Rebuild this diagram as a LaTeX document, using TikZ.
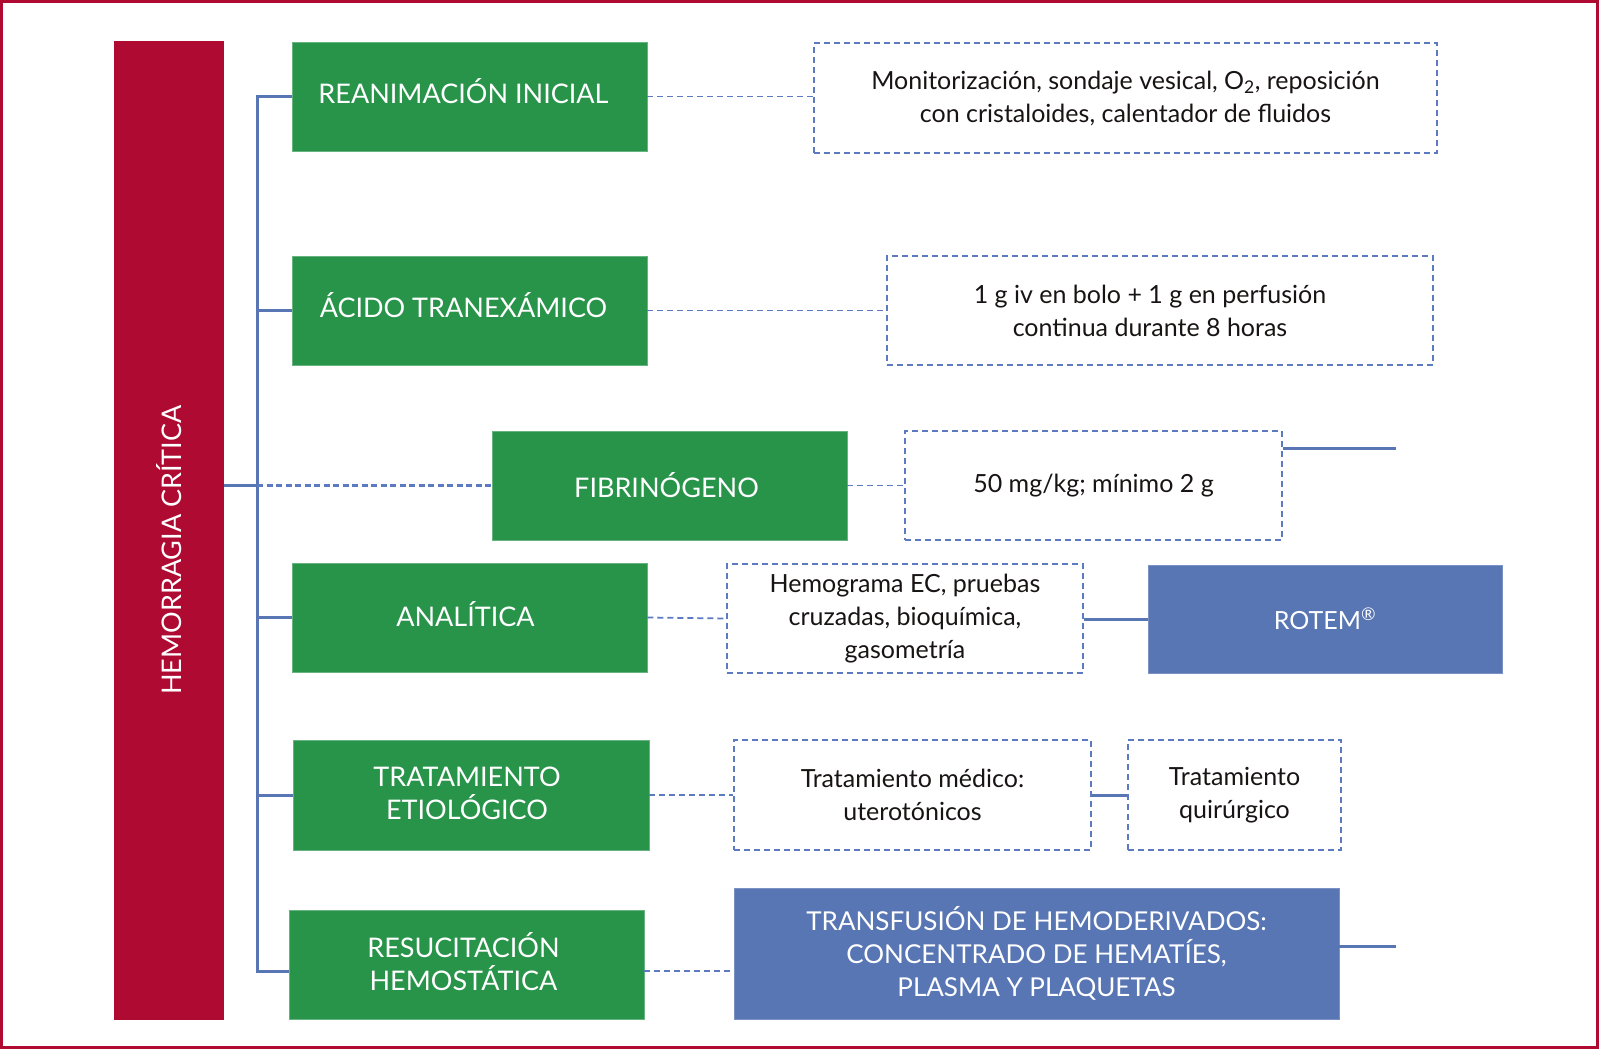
\documentclass[tikz,border=0pt]{standalone}
\usepackage{fontspec}
\setmainfont{Lato}
\usetikzlibrary{calc}
\definecolor{gr}{RGB}{40,148,74}
\definecolor{crim}{RGB}{174,10,50}
\definecolor{bl}{RGB}{88,118,180}
\definecolor{dbl}{RGB}{92,122,192}
\definecolor{txt}{RGB}{25,20,20}
\newcommand\bigf{\fontsize{25}{33}\selectfont}
\newcommand\capf{\fontsize{27}{33}\selectfont}
\newcommand\midf{\fontsize{26}{33}\selectfont}
\begin{document}
\begin{tikzpicture}[x=1pt,y=-1pt,
  gbox/.style={fill=gr, draw=gr!70!white, line width=0.6pt, minimum width=355pt, minimum height=109pt, inner sep=0pt},
  gtext/.style={text=white, inner sep=0pt, align=center, font=\capf},
  dbox/.style={draw=dbl, dash pattern=on 6pt off 4pt, line width=1.6pt, text=txt, inner sep=0pt, align=center, font=\bigf},
  bbox/.style={fill=bl, draw=bl!80!white, line width=0.6pt, text=white, inner sep=0pt, align=center, font=\bigf},
  tree/.style={draw=bl, line width=3pt},
  dline/.style={draw=dbl, dash pattern=on 6pt off 4pt, line width=1.8pt},
  dfat/.style={draw=dbl, dash pattern=on 6pt off 3.5pt, line width=3pt}]
\useasboundingbox (0,0) rectangle (1600,1049);
\fill[white] (0,0) rectangle (1600,1049);
\draw[crim, line width=3pt] (1.5,1.5) rectangle (1597.5,1047.5);

% red bar
\node[fill=crim, minimum width=110pt, minimum height=979pt, inner sep=0pt] (bar) at (169,530.5) {};
\node[rotate=90, text=white, font=\capf] (bart) at (169,550) {HEMORRAGIA CRÍTICA};

% green boxes
\node[gbox] (g1) at (469.5,96.5) {};
\node[gtext] (g1t) at ($(g1)+(-6,-5)$) {REANIMACIÓN INICIAL};
\node[gbox] (g2) at (469.5,310.5) {};
\node[gtext] (g2t) at ($(g2)+(-6,-5)$) {ÁCIDO TRANEXÁMICO};
\node[gbox] (g3) at (669.5,485.5) {};
\node[gtext] (g3t) at ($(g3)+(-3,0)$) {FIBRINÓGENO};
\node[gbox] (g4) at (469.5,617.5) {};
\node[gtext] (g4t) at ($(g4)+(-4,-3)$) {ANALÍTICA};
\node[gbox, minimum width=356pt, minimum height=110pt] (g5) at (471,795) {};
\node[gtext] (g5t) at ($(g5)+(-4,-2)$) {TRATAMIENTO\\ETIOLÓGICO};
\node[gbox] (g6) at (466.5,964.5) {};
\node[gtext] (g6t) at ($(g6)+(-3,-3)$) {RESUCITACIÓN\\HEMOSTÁTICA};

% dashed boxes
\node[dbox, minimum width=623pt, minimum height=110pt] (d1) at (1125.5,98) {Monitorización, sondaje vesical, O\textsubscript{2}, reposición\\con cristaloides, calentador de fluidos};
\node[dbox, minimum width=546pt, minimum height=109pt] (d2) at (1160,310.5) {};
\node[text=txt, inner sep=0pt, align=center, font=\bigf] (d2t) at ($(d2)+(-10,0)$) {1 g iv en bolo + 1 g en perfusión\\continua durante 8 horas};
\node[dbox, minimum width=377pt, minimum height=109pt] (d3) at (1093.5,485.5) {50 mg/kg; mínimo 2 g};
\node[dbox, minimum width=356pt, minimum height=109pt] (d4) at (905,618.5) {Hemograma EC, pruebas\\cruzadas, bioquímica,\\gasometría};
\node[dbox, minimum width=357pt, minimum height=110pt] (d5) at (912.5,795) {Tratamiento médico:\\uterotónicos};
\node[dbox, minimum width=213pt, minimum height=110pt] (d6) at (1234.5,795) {Tratamiento\\quirúrgico};

% blue boxes
\node[bbox, minimum width=354pt, minimum height=108pt] (r1) at (1325,619) {ROTEM\textsuperscript{®}};
\node[bbox, font=\midf, minimum width=605pt, minimum height=131pt] (b2) at (1036.5,953.5) {TRANSFUSIÓN DE HEMODERIVADOS:\\CONCENTRADO DE HEMATÍES,\\PLASMA Y PLAQUETAS};

% tree
\coordinate (j1) at (257,96.5);
\coordinate (j2) at (257,310.5);
\coordinate (j3) at (257,485.5);
\coordinate (j4) at (257,617.5);
\coordinate (j5) at (257,795);
\coordinate (j6) at (257,971);
\draw[tree] (j1 -| g1.west) -- (j1) -- (j6) -- (j6 -| g6.west);
\draw[tree] (j2) -- (g2.west);
\draw[tree] (j4) -- (g4.west);
\draw[tree] (j5) -- (g5.west);
\draw[tree] (bar.east |- j3) -- (j3);
\draw[dfat] (j3) -- (g3.west);

% dashed connectors
\draw[dline] (g1.east) -- (g1.east -| d1.west);
\draw[dline] (g2.east) -- (d2.west);
\draw[dline] (g3.east) -- (d3.west);
\draw[dline] (g4.east) -- (d4.west);
\draw[dline] (g5.east) -- (d5.west);
\draw[dline] (j6 -| g6.east) -- (j6 -| b2.west);

% solid connectors
\draw[tree] (d4.east |- r1.west) -- (r1.west);
\draw[tree] (d5.east) -- (d6.west);
\coordinate (e3) at (1396,448);
\draw[tree] (e3 -| d3.east) -- (e3);
\coordinate (e6) at (1396,946);
\draw[tree] (e6 -| b2.east) -- (e6);
\end{tikzpicture}
\end{document}
